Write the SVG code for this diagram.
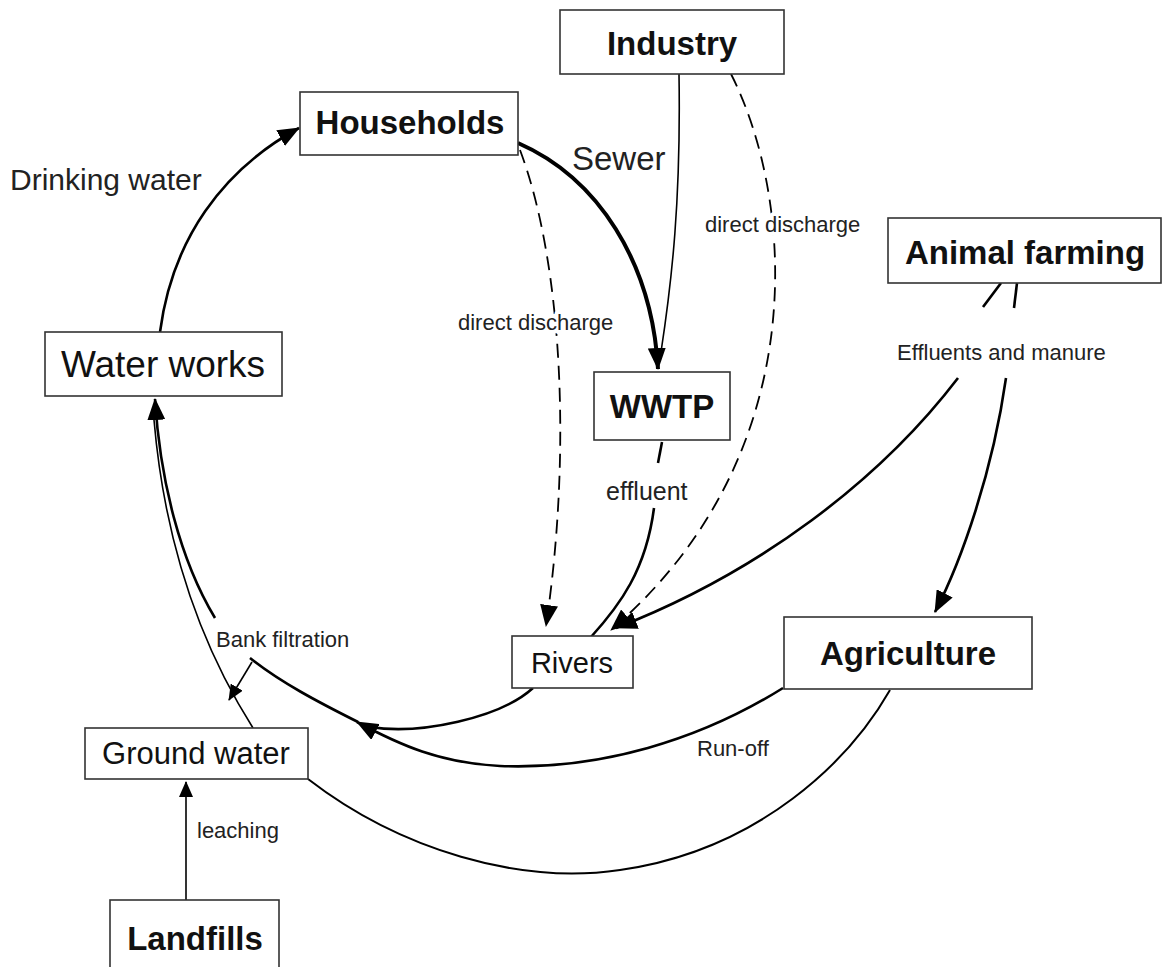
<svg xmlns="http://www.w3.org/2000/svg" width="1167" height="967" viewBox="0 0 1167 967">
  <style>
    .box { fill: #fff; stroke: #333; stroke-width: 1.6; }
    .bold { font-family: "Liberation Sans", Arial, sans-serif; font-weight: bold; font-size: 33px; fill: #111; text-anchor: middle; }
    .reg { font-family: "Liberation Sans", Arial, sans-serif; fill: #111; text-anchor: middle; }
    .lbl { font-family: "Liberation Sans", Arial, sans-serif; fill: #222; font-size: 22px; }
    .halo { stroke: #fff; stroke-width: 8; paint-order: stroke; stroke-linejoin: round; }
    .flow { fill: none; stroke: #000; stroke-width: 2.6; }
    .thin { fill: none; stroke: #000; stroke-width: 1.6; }
    .dash { fill: none; stroke: #000; stroke-width: 1.8; stroke-dasharray: 14 8; }
  </style>
  <defs>
    <marker id="ah" viewBox="0 0 22 18" refX="21" refY="9" markerWidth="22" markerHeight="18" orient="auto" markerUnits="userSpaceOnUse">
      <path d="M0,0 L22,9 L0,18 z" fill="#000"/>
    </marker>
    <marker id="ahs" viewBox="0 0 16 14" refX="15" refY="7" markerWidth="16" markerHeight="14" orient="auto" markerUnits="userSpaceOnUse">
      <path d="M0,0 L16,7 L0,14 z" fill="#000"/>
    </marker>
  </defs>

  <!-- flows between the nodes -->
  <g id="connectors">
    <!-- drinking water supply -->
    <path class="flow" d="M160,332 C172,240 222,170 299,128" marker-end="url(#ah)"/>
    <!-- sewer -->
    <path class="flow" style="stroke-width:4" d="M518,143 C598,178 652,262 658,369" marker-end="url(#ah)"/>
    <!-- industry to sewer -->
    <path class="thin" d="M679,74 C681,200 672,280 661,352"/>
    <!-- direct discharges -->
    <path class="dash" d="M520,150 C562,262 572,450 546,626" marker-end="url(#ah)"/>
    <path class="dash" d="M731,74 C795,200 815,455 611,630" marker-end="url(#ah)"/>
    <!-- WWTP effluent -->
    <path class="flow" d="M662,442 L658,463"/>
    <path class="flow" d="M654,508 C646,570 620,605 591,637"/>
    <!-- effluents and manure -->
    <path class="flow" d="M1001,283 L983,307"/>
    <path class="flow" d="M958,378 C880,480 760,572 616,628" marker-end="url(#ah)"/>
    <path class="flow" d="M1017,283 L1014,308"/>
    <path class="flow" d="M1006,378 C993,470 962,560 935,612" marker-end="url(#ah)"/>
    <!-- rivers and run-off towards bank filtration -->
    <path class="flow" d="M533,688 C500,718 420,735 370,727"/>
    <path class="flow" d="M783,688 C700,740 600,770 500,766 C440,763 400,745 357,722" marker-end="url(#ah)"/>
    <path class="flow" d="M358,722 C318,702 280,682 250,658"/>
    <path class="flow" d="M215,618 C180,560 160,480 155,399" marker-end="url(#ah)"/>
    <!-- ground water to water works -->
    <path class="thin" d="M253,728 C210,660 166,560 154,420"/>
    <!-- bank filtration into ground water -->
    <path class="thin" d="M252,662 L229,700" marker-end="url(#ahs)"/>
    <!-- ground water and agriculture -->
    <path class="thin" style="stroke-width:2" d="M308,779 C400,850 520,885 620,870 C760,850 850,760 890,690"/>
    <!-- leaching -->
    <path class="thin" d="M186,900 L186,782" marker-end="url(#ahs)"/>
  </g>

  <!-- flow labels -->
  <g id="labels">
    <text class="lbl" x="10" y="190" style="font-size:30px">Drinking water</text>
    <text class="lbl" x="572" y="170" style="font-size:33px">Sewer</text>
    <text class="lbl halo" x="458" y="330">direct discharge</text>
    <text class="lbl halo" x="705" y="232">direct discharge</text>
    <text class="lbl" x="897" y="360">Effluents and manure</text>
    <text class="lbl" x="606" y="500" style="font-size:25px">effluent</text>
    <text class="lbl" x="216" y="647">Bank filtration</text>
    <text class="lbl" x="697" y="756">Run-off</text>
    <text class="lbl" x="197" y="838">leaching</text>
  </g>

  <g id="industry">
    <rect class="box" x="560" y="10" width="224" height="64"/>
    <text class="bold" x="672" y="55">Industry</text>
  </g>
  <g id="households">
    <rect class="box" x="300" y="92" width="218" height="63"/>
    <text class="bold" x="410" y="134">Households</text>
  </g>
  <g id="animal-farming">
    <rect class="box" x="888" y="218" width="273" height="65"/>
    <text class="bold" x="1025" y="264">Animal farming</text>
  </g>
  <g id="water-works">
    <rect class="box" x="45" y="332" width="237" height="64"/>
    <text class="reg" x="163" y="377" style="font-size:37px">Water works</text>
  </g>
  <g id="wwtp">
    <rect class="box" x="594" y="372" width="136" height="68"/>
    <text class="bold" x="662" y="418">WWTP</text>
  </g>
  <g id="rivers">
    <rect class="box" x="512" y="636" width="121" height="52"/>
    <text class="reg" x="572" y="673" style="font-size:29px">Rivers</text>
  </g>
  <g id="agriculture">
    <rect class="box" x="784" y="617" width="248" height="72"/>
    <text class="bold" x="908" y="665">Agriculture</text>
  </g>
  <g id="ground-water">
    <rect class="box" x="85" y="728" width="223" height="51"/>
    <text class="reg" x="196" y="764" style="font-size:31px">Ground water</text>
  </g>
  <g id="landfills">
    <rect class="box" x="110" y="900" width="169" height="80"/>
    <text class="bold" x="195" y="950">Landfills</text>
  </g>
</svg>
